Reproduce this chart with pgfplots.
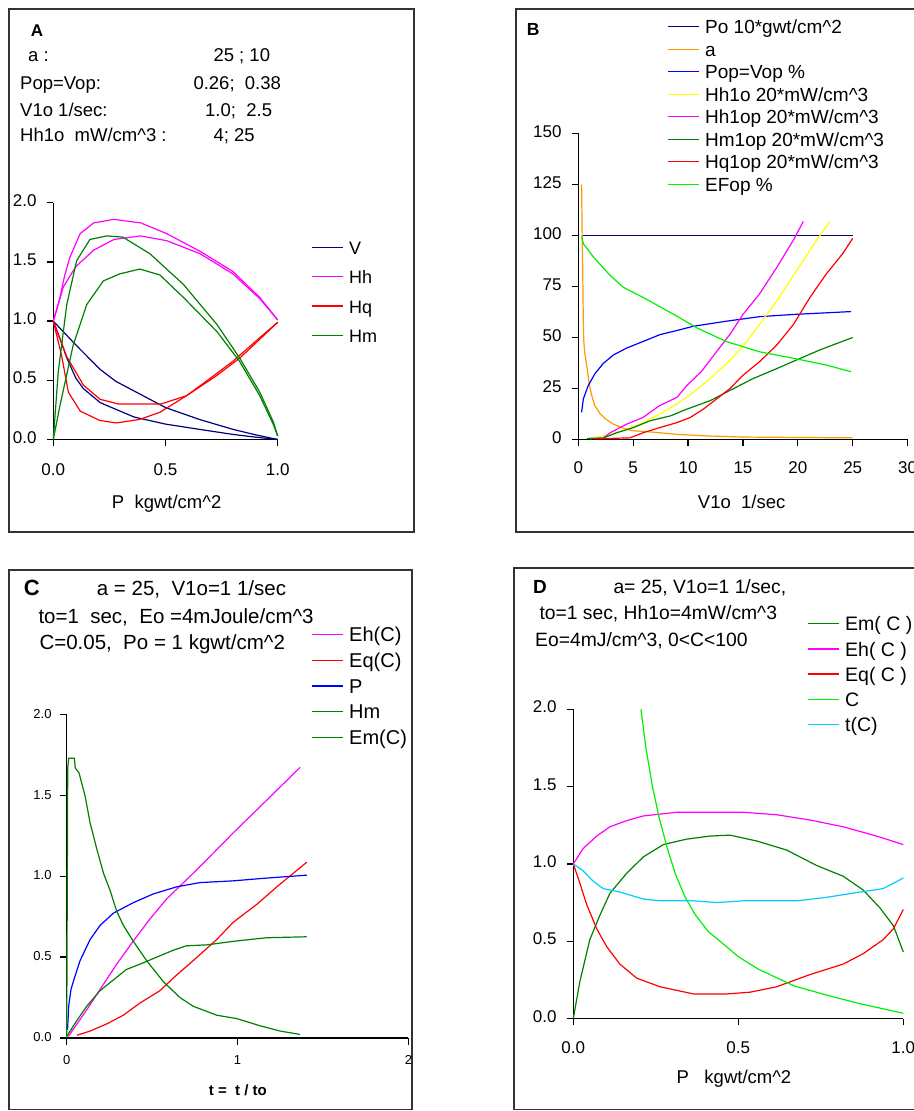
\documentclass[border=0pt]{standalone}
\usepackage{fontspec}
\setmainfont{Liberation Sans}
\usepackage{pgfplots}
\pgfplotsset{compat=1.18}
\definecolor{cNavy}{RGB}{0,0,128}
\definecolor{cMag}{RGB}{255,0,255}
\definecolor{cRed}{RGB}{255,0,0}
\definecolor{cGreen}{RGB}{0,128,0}
\definecolor{cOrange}{RGB}{255,153,0}
\definecolor{cBlue}{RGB}{0,0,255}
\definecolor{cYellow}{RGB}{255,255,0}
\definecolor{cLime}{RGB}{0,240,0}
\definecolor{cCyan}{RGB}{0,204,255}
\newcommand\fs[1]{\fontsize{#1}{#1}\selectfont}
\newcommand\ca{\textasciicircum}
\tikzset{tx/.style={inner sep=0pt, text height=0.72em, text depth=0pt, anchor=west}}
\pgfplotsset{
  panel/.style={
    scale only axis,
    anchor=south west,
    axis x line*=bottom, axis y line*=left,
    tick align=outside,
    major tick length=6.5pt,
    axis line style={line width=1.3pt, black},
    tick style={line width=1.3pt, black},
    x tick label style={anchor=center, inner sep=0pt, text height=0.72em, text depth=0pt},
    y tick label style={anchor=east, inner sep=0pt, text height=0.72em, text depth=0pt},
    x label style={inner sep=0pt, text height=0.72em, text depth=0pt, anchor=center},
    legend cell align=left,
    legend image code/.code={\path[draw=none,fill=none] (0pt,0pt) rectangle (37.6pt,0.72em); \draw[##1, line width=1.4pt] (0pt,0.36em) -- (31pt,0.36em);},
    legend style={draw=none, fill=none, inner sep=0pt, column sep=0pt, nodes={inner sep=0pt, text height=0.72em, text depth=0pt}},
    every axis plot/.append style={line width=1.2pt},
    clip=false,
  },
}
\begin{document}
\begin{tikzpicture}
\useasboundingbox (0,0) rectangle (913pt,1111pt);
% frames
\draw[line width=1.5pt, black!80] (9pt,1102pt) rectangle (414pt,579pt);
\draw[line width=1.5pt, black!80] (516pt,1102pt) rectangle (930pt,579pt);
\draw[line width=1.5pt, black!80] (9pt,541pt) rectangle (412pt,1.5pt);
\draw[line width=1.5pt, black!80] (514pt,543pt) rectangle (930pt,1.5pt);
% ---------- texts A
\node[tx, anchor=center, font=\fs{17}\bfseries] at (37pt,1078pt) {A};
\node[tx, font=\fs{18.5}] at (28pt,1053pt) {a :};
\node[tx, font=\fs{18.5}] at (213.3pt,1053pt) {25 ; 10};
\node[tx, font=\fs{18.5}] at (20pt,1024.8pt) {Pop=Vop:};
\node[tx, font=\fs{18.5}] at (193.3pt,1024.8pt) {0.26;~~0.38};
\node[tx, font=\fs{18.5}] at (20pt,998pt) {V1o 1/sec:};
\node[tx, font=\fs{18.5}] at (205pt,998pt) {1.0;~~2.5};
\node[tx, font=\fs{18.5}] at (20pt,972.7pt) {Hh1o~~mW/cm\ca3 :};
\node[tx, font=\fs{18.5}] at (213.3pt,972.7pt) {4; 25};
% ---------- texts B
\node[tx, anchor=center, font=\fs{17.5}\bfseries] at (533.3pt,1079pt) {B};
% ---------- texts C
\node[tx, anchor=center, font=\fs{22}\bfseries] at (31.7pt,519.4pt) {C};
\node[tx, font=\fs{20.5}] at (96.7pt,519.4pt) {a = 25,~~V1o=1 1/sec};
\node[tx, font=\fs{20.5}] at (38.3pt,491.3pt) {to=1~~sec,~~Eo =4mJoule/cm\ca3};
\node[tx, font=\fs{20.5}] at (39.3pt,465pt) {C=0.05,~~Po = 1 kgwt/cm\ca2};
% ---------- texts D
\node[tx, anchor=center, font=\fs{19}\bfseries] at (540pt,521.1pt) {D};
\node[tx, font=\fs{19.3}] at (613.3pt,521.1pt) {a= 25, V1o=1 1/sec,};
\node[tx, font=\fs{19.3}] at (539.3pt,494.8pt) {to=1 sec, Hh1o=4mW/cm\ca3};
\node[tx, font=\fs{19.3}] at (535pt,468.4pt) {Eo=4mJ/cm\ca3, 0<C<100};

% ================= A
\begin{axis}[panel, at={(53.3pt,671.5pt)}, width=224.4pt, height=236.7pt,
  xmin=0, xmax=1, ymin=0, ymax=2,
  xtick={0,0.5,1}, xticklabels={0.0,0.5,1.0},
  ytick={0,0.5,1,1.5,2}, yticklabels={0.0,0.5,1.0,1.5,2.0},
  ticklabel style={font=\fs{17}},
  x tick label style={yshift=-25.5pt}, y tick label style={xshift=-10.1pt},
  xlabel={P~~kgwt/cm\ca2}, xlabel style={at={(axis description cs:0.505,-0.2767)}, font=\fs{18.5}},
  legend style={at={(1.147,0.828)}, anchor=north west, font=\fs{18}, row sep=18.6pt},
]
\addplot[cNavy] coordinates {(0,1) (0.1,0.80) (0.21,0.59) (0.28,0.49) (0.38,0.39) (0.5,0.27) (0.65,0.17) (0.8,0.086) (0.9,0.04) (1,0)};
\addlegendentry{V}
\addplot[cNavy, forget plot] coordinates {(0,1) (0.03,0.85) (0.06,0.69) (0.1,0.52) (0.134,0.43) (0.21,0.31) (0.36,0.19) (0.5,0.13) (0.65,0.086) (0.8,0.043) (0.9,0.02) (1,0)};
\addplot[cMag] coordinates {(0,1) (0.015,1.1) (0.03,1.2) (0.05,1.38) (0.074,1.54) (0.12,1.74) (0.18,1.83) (0.27,1.86) (0.39,1.83) (0.505,1.74) (0.654,1.59) (0.8,1.42) (0.92,1.2) (1,1.01)};
\addlegendentry{Hh}
\addplot[cMag, forget plot] coordinates {(0,1) (0.045,1.29) (0.1,1.46) (0.18,1.6) (0.27,1.69) (0.39,1.72) (0.505,1.68) (0.654,1.57) (0.8,1.4) (0.92,1.19) (1,1.01)};
\addplot[cRed] coordinates {(0,1) (0.06,0.7) (0.134,0.46) (0.208,0.34) (0.29,0.30) (0.48,0.30) (0.594,0.37) (0.68,0.49) (0.8,0.66) (0.92,0.86) (1,0.99)};
\addlegendentry{Hq}
\addplot[cRed, forget plot] coordinates {(0,1) (0.037,0.71) (0.067,0.40) (0.12,0.24) (0.208,0.16) (0.282,0.14) (0.386,0.17) (0.475,0.23) (0.594,0.37) (0.728,0.54) (0.832,0.69) (1,0.99)};
\addplot[cGreen] coordinates {(0,0) (0.022,0.57) (0.06,1.14) (0.104,1.51) (0.163,1.69) (0.238,1.72) (0.31,1.71) (0.43,1.57) (0.58,1.31) (0.73,0.97) (0.83,0.69) (0.92,0.4) (0.98,0.15) (1,0.03)};
\addlegendentry{Hm}
\addplot[cGreen, forget plot] coordinates {(0,0) (0.03,0.29) (0.089,0.8) (0.149,1.14) (0.223,1.34) (0.297,1.4) (0.386,1.44) (0.475,1.39) (0.58,1.2) (0.73,0.91) (0.83,0.66) (0.92,0.37) (0.98,0.13) (1,0.03)};
\end{axis}

% ================= B
\begin{axis}[panel, at={(578.3pt,671.5pt)}, width=329.3pt, height=306pt,
  xmin=0, xmax=30, ymin=0, ymax=150,
  xtick={0,5,10,15,20,25,30}, xticklabels={0,5,10,15,20,25,30},
  ytick={0,25,50,75,100,125,150}, yticklabels={0,25,50,75,100,125,150},
  ticklabel style={font=\fs{17}},
  x tick label style={yshift=-24pt}, y tick label style={xshift=-10.1pt},
  xlabel={V1o~~1/sec}, xlabel style={at={(axis description cs:0.496,-0.214)}, font=\fs{18.5}},
  legend style={at={(0.2684,1.3614)}, anchor=north west, font=\fs{19}, row sep=11.7pt},
]
\addplot[cNavy, line width=1.4pt] coordinates {(0.3,100) (25,100)};
\addlegendentry{Po 10*gwt/cm\ca2}
\addplot[cOrange] coordinates {(0.3,125) (0.35,100) (0.4,85) (0.45,60) (0.5,48) (0.6,42) (0.8,35) (1.0,27) (1.2,22) (1.5,16.6) (2,12.5) (2.5,10) (3.2,7.5) (4.4,5) (5,4.3) (6.8,3.6) (9,2.5) (12,1.7) (15,1.2) (20,1) (25,0.8)};
\addlegendentry{a}
\addplot[cBlue] coordinates {(0.3,13.3) (0.46,19.9) (0.91,26.5) (1.52,32.3) (2.28,37.3) (3.19,41.4) (4.4,44.8) (5.92,48.1) (7.44,51.4) (8.96,53.4) (10.48,55.5) (13.5,58) (16.5,60.2) (19.6,61.3) (24.85,62.7)};
\addlegendentry{Pop=Vop \%}
\addplot[cYellow] coordinates {(1.06,0.3) (2.9,2.5) (4.4,5) (5.9,8.3) (7.4,12.4) (9,17.4) (10.5,23.2) (12,29.8) (13.5,37.3) (15,45.6) (16.5,56.4) (18.1,68) (19.6,80.4) (21.1,92.8) (22.9,106.9)};
\addlegendentry{Hh1o 20*mW/cm\ca3}
\addplot[cMag] coordinates {(2.3,0.8) (2.9,3.3) (4.4,7.5) (5.9,10.8) (7.4,16.6) (9,20.7) (9.9,26.5) (11.2,33.2) (12.6,43.1) (13.8,51.4) (15,61.3) (16.5,71.3) (18.1,84.5) (19.6,97.8) (20.5,106.9)};
\addlegendentry{Hh1op 20*mW/cm\ca3}
\addplot[cGreen] coordinates {(0.8,0.5) (2.3,0.8) (3.5,3.3) (5,5.8) (6.5,9.1) (8.4,11.6) (9.9,14.9) (12,19) (13.8,24) (15.9,29.8) (18.1,34.8) (19.9,39) (22,43.9) (25,50)};
\addlegendentry{Hm1op 20*mW/cm\ca3}
\addplot[cRed] coordinates {(1.4,0.3) (4.7,0.8) (5.9,3.3) (7.4,5.8) (9,8.3) (10.2,10.8) (11.4,14.9) (12.6,19.9) (13.8,24.9) (15,31.5) (16.5,38.1) (18.1,46.4) (19.6,56.4) (21.1,69.6) (22.6,81.2) (24.1,91.2) (25,98.6)};
\addlegendentry{Hq1op 20*mW/cm\ca3}
\addplot[cLime] coordinates {(0.3,99.5) (0.46,96) (1.37,89.5) (2.9,80.4) (4.1,74.6) (5.92,69.6) (8.96,60.5) (10.8,54.7) (13.5,48) (16.5,43) (19.6,39.8) (22.6,36.5) (24.85,33.2)};
\addlegendentry{EFop \%}
\end{axis}

% ================= C
\begin{axis}[panel, at={(66.7pt,73pt)}, width=341.7pt, height=323.4pt,
  xmin=0, xmax=2, ymin=0, ymax=2,
  xtick={0,1,2}, xticklabels={0,1,2},
  ytick={0,0.5,1,1.5,2}, yticklabels={0.0,0.5,1.0,1.5,2.0},
  ticklabel style={font=\fs{13}},
  x tick label style={yshift=-16.2pt}, y tick label style={xshift=-8.5pt},
  xlabel={t =~~t / to}, xlabel style={at={(axis description cs:0.501,-0.167)}, font=\fs{15}\bfseries},
  legend style={at={(0.7082,1.2839)}, anchor=north west, font=\fs{20}, row sep=14.9pt, fill=white, inner xsep=2pt, inner ysep=8pt},
]
\addplot[cMag] coordinates {(0.01,0.01) (0.06,0.087) (0.117,0.174) (0.195,0.3) (0.293,0.457) (0.39,0.6) (0.49,0.74) (0.585,0.86) (0.683,0.96) (0.78,1.06) (0.976,1.27) (1.17,1.47) (1.366,1.674)};
\addlegendentry{Eh(C)}
\addplot[cRed] coordinates {(0.06,0.017) (0.137,0.043) (0.234,0.087) (0.33,0.14) (0.43,0.217) (0.546,0.293) (0.644,0.39) (0.74,0.478) (0.878,0.609) (0.976,0.717) (1.112,0.826) (1.23,0.935) (1.405,1.087)};
\addlegendentry{Eq(C)}
\addplot[cBlue] coordinates {(0.005,0.05) (0.012,0.2) (0.025,0.3) (0.039,0.35) (0.078,0.478) (0.137,0.609) (0.195,0.696) (0.273,0.772) (0.39,0.837) (0.507,0.891) (0.644,0.935) (0.78,0.961) (0.976,0.972) (1.17,0.989) (1.405,1.007)};
\addlegendentry{P}
\addplot[cGreen] coordinates {(0,0) (0.004,1.1) (0.006,1.67) (0.012,1.73) (0.045,1.73) (0.05,1.67) (0.072,1.64) (0.107,1.5) (0.137,1.33) (0.176,1.17) (0.215,1.02) (0.254,0.913) (0.293,0.783) (0.332,0.696) (0.39,0.598) (0.468,0.478) (0.566,0.348) (0.663,0.25) (0.741,0.196) (0.878,0.141) (0.995,0.12) (1.13,0.076) (1.249,0.043) (1.366,0.022)};
\addlegendentry{Hm}
\addplot[cGreen] coordinates {(0,0.01) (0.06,0.109) (0.117,0.196) (0.195,0.293) (0.273,0.359) (0.35,0.424) (0.43,0.457) (0.527,0.5) (0.624,0.543) (0.7,0.57) (0.82,0.576) (0.976,0.598) (1.17,0.62) (1.405,0.626)};
\addlegendentry{Em(C)}
\end{axis}

% ================= D
\begin{axis}[panel, at={(573.3pt,92.5pt)}, width=330pt, height=309.2pt,
  xmin=0, xmax=1, ymin=0, ymax=2,
  xtick={0,0.5,1}, xticklabels={0.0,0.5,1.0},
  ytick={0,0.5,1,1.5,2}, yticklabels={0.0,0.5,1.0,1.5,2.0},
  ticklabel style={font=\fs{17}},
  x tick label style={yshift=-25pt}, y tick label style={xshift=-10.1pt},
  xlabel={P~~~kgwt/cm\ca2}, xlabel style={at={(axis description cs:0.487,-0.199)}, font=\fs{18.5}},
  legend style={at={(0.7073,1.2895)}, anchor=north west, font=\fs{19.5}, row sep=14.46pt},
]
\addplot[cGreen] coordinates {(0,0) (0.02,0.24) (0.05,0.51) (0.081,0.67) (0.111,0.81) (0.162,0.94) (0.212,1.045) (0.273,1.125) (0.343,1.16) (0.414,1.18) (0.475,1.186) (0.556,1.148) (0.646,1.09) (0.737,0.99) (0.818,0.92) (0.879,0.83) (0.929,0.716) (0.97,0.6) (1,0.43)};
\addlegendentry{Em( C )}
\addplot[cMag] coordinates {(0,1) (0.03,1.1) (0.071,1.18) (0.111,1.24) (0.162,1.28) (0.212,1.31) (0.313,1.334) (0.414,1.334) (0.515,1.334) (0.616,1.318) (0.717,1.284) (0.818,1.24) (0.919,1.18) (1,1.125)};
\addlegendentry{Eh( C )}
\addplot[cRed] coordinates {(0,1) (0.02,0.875) (0.04,0.74) (0.071,0.58) (0.101,0.466) (0.141,0.352) (0.192,0.261) (0.263,0.205) (0.364,0.159) (0.465,0.159) (0.535,0.17) (0.616,0.205) (0.717,0.284) (0.818,0.352) (0.879,0.42) (0.939,0.51) (0.97,0.58) (1,0.705)};
\addlegendentry{Eq( C )}
\addplot[cLime] coordinates {(0.205,2.0) (0.22,1.75) (0.24,1.5) (0.26,1.3) (0.285,1.1) (0.31,0.93) (0.34,0.78) (0.37,0.67) (0.41,0.56) (0.45,0.49) (0.5,0.40) (0.56,0.32) (0.62,0.26) (0.67,0.21) (0.77,0.15) (0.87,0.095) (1,0.034)};
\addlegendentry{C}
\addplot[cCyan] coordinates {(0,1) (0.03,0.955) (0.061,0.886) (0.091,0.84) (0.141,0.818) (0.212,0.773) (0.263,0.761) (0.364,0.761) (0.434,0.75) (0.515,0.761) (0.677,0.761) (0.768,0.784) (0.869,0.818) (0.939,0.84) (1,0.909)};
\addlegendentry{t(C)}
\end{axis}
\end{tikzpicture}
\end{document}
